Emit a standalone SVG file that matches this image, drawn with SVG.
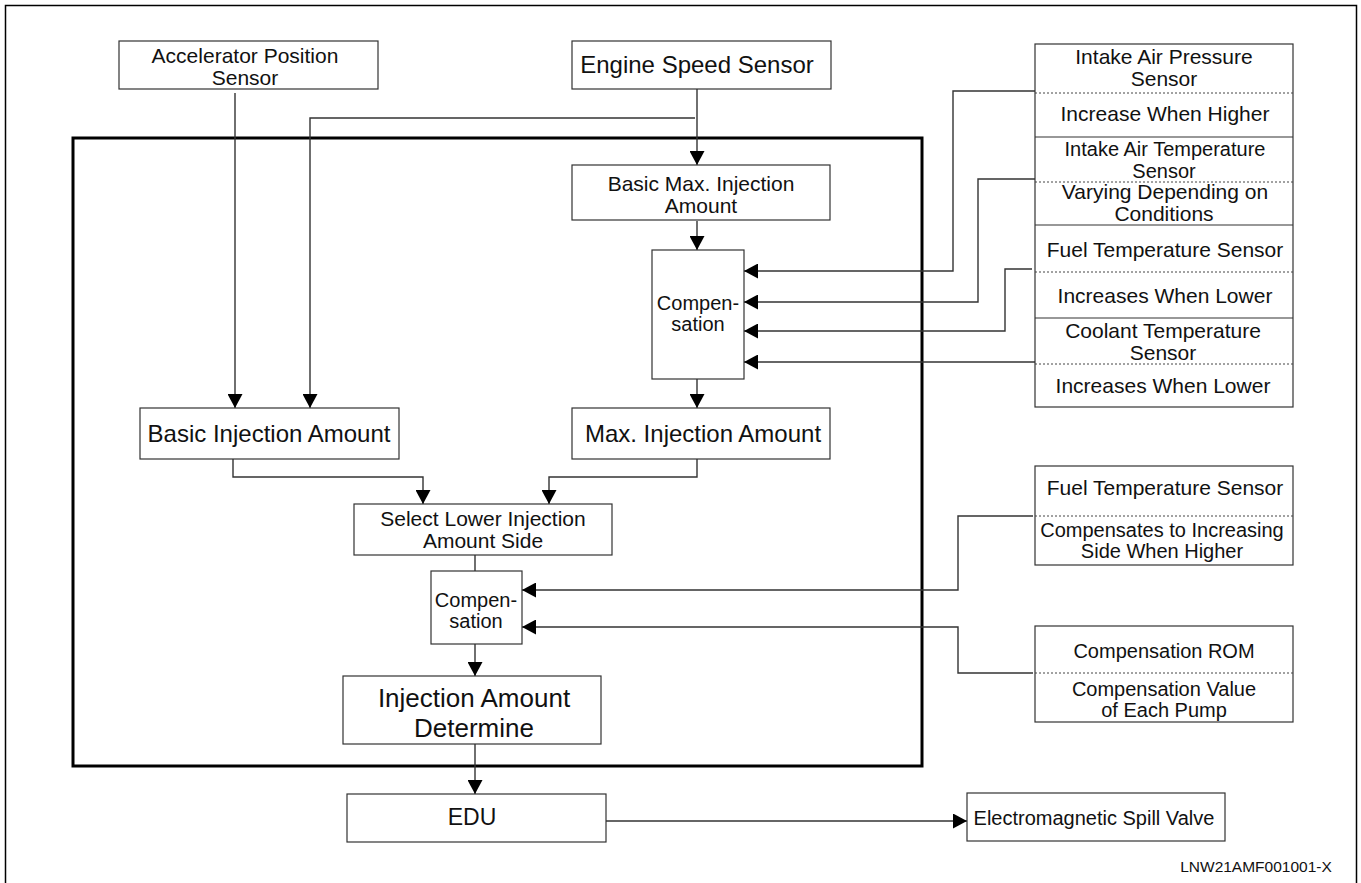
<svg xmlns="http://www.w3.org/2000/svg" width="1361" height="883" viewBox="0 0 1361 883">
<style>
  .box { fill: #fff; stroke: #333; stroke-width: 1.2; }
  .thick { fill: none; stroke: #000; stroke-width: 3; }
  .frame { fill: none; stroke: #000; stroke-width: 1.5; }
  .dot { stroke: #444; stroke-width: 1; stroke-dasharray: 2 2; fill: none; }
  .sep { stroke: #333; stroke-width: 1.2; fill: none; }
  .ln { fill: none; stroke: #333; stroke-width: 1.4; }
  .arr { fill: none; stroke: #333; stroke-width: 1.4; marker-end: url(#ah); }
  text { font-family: "Liberation Sans", Arial, sans-serif; fill: #111; text-anchor: middle; }
  .t21 { font-size: 21px; }
  .t20 { font-size: 20px; }
  .t24 { font-size: 24px; }
</style>
<defs>
  <marker id="ah" markerUnits="userSpaceOnUse" markerWidth="15" markerHeight="15" refX="14" refY="7.5" orient="auto">
    <path d="M0,0 L14,7.5 L0,15 z" fill="#000"/>
  </marker>
</defs>
<rect width="1361" height="883" fill="#fff"/>
<path class="frame" d="M5.5,884 V5.5 H1356.5 V884"/>

<rect id="controller" class="thick" x="73" y="138" width="849" height="628"/>

<g id="connectors">
  <path class="arr" d="M235,93 V408"/>
  <path class="arr" d="M697,89 V165"/>
  <path class="arr" d="M695,118 H310 V408"/>
  <path class="arr" d="M697,221 V250"/>
  <path class="arr" d="M697,379 V408"/>
  <path class="arr" d="M233,459 V477 H423 V504"/>
  <path class="arr" d="M697,459 V477 H549 V504"/>
  <path class="ln" d="M475,555 V571"/>
  <path class="arr" d="M475,644 V676"/>
  <path class="arr" d="M475,744 V794"/>
  <path class="arr" d="M606,821 H967"/>
  <path class="arr" d="M1035,91 H953 V271 H744"/>
  <path class="arr" d="M1035,179 H978 V302 H744"/>
  <path class="arr" d="M1032,269 H1005 V331 H744"/>
  <path class="arr" d="M1035,362 H744"/>
  <path class="arr" d="M1033,516 H958 V590 H522"/>
  <path class="arr" d="M1033,673 H958 V627 H522"/>
</g>

<g id="accel">
  <rect class="box" x="119" y="41" width="259" height="48"/>
  <text class="t21" x="245" y="63">Accelerator Position</text>
  <text class="t21" x="245" y="85">Sensor</text>
</g>
<g id="engine-speed">
  <rect class="box" x="572" y="41" width="259" height="48"/>
  <text class="t24" x="697" y="73">Engine Speed Sensor</text>
</g>
<g id="basic-max">
  <rect class="box" x="572" y="165" width="258" height="55"/>
  <text class="t21" x="701" y="191">Basic Max. Injection</text>
  <text class="t21" x="701" y="213">Amount</text>
</g>
<g id="comp1">
  <rect class="box" x="652" y="250" width="92" height="129"/>
  <text class="t20" x="698" y="310">Compen-</text>
  <text class="t20" x="698" y="331">sation</text>
</g>
<g id="max-inj">
  <rect class="box" x="572" y="408" width="258" height="51"/>
  <text class="t24" x="703" y="442">Max. Injection Amount</text>
</g>
<g id="basic-inj">
  <rect class="box" x="140" y="408" width="259" height="51"/>
  <text class="t24" x="269" y="442">Basic Injection Amount</text>
</g>
<g id="select">
  <rect class="box" x="354" y="504" width="258" height="51"/>
  <text class="t21" x="483" y="526">Select Lower Injection</text>
  <text class="t21" x="483" y="548">Amount Side</text>
</g>
<g id="comp2">
  <rect class="box" x="431" y="571" width="91" height="73"/>
  <text class="t20" x="476" y="607">Compen-</text>
  <text class="t20" x="476" y="628">sation</text>
</g>
<g id="determine">
  <rect class="box" x="343" y="676" width="258" height="68"/>
  <text x="474" y="707" style="font-size:26px">Injection Amount</text>
  <text x="474" y="737" style="font-size:26px">Determine</text>
</g>
<g id="edu">
  <rect class="box" x="347" y="794" width="259" height="48"/>
  <text x="472" y="825" style="font-size:23px">EDU</text>
</g>
<g id="spill-valve">
  <rect class="box" x="967" y="793" width="258" height="48"/>
  <text class="t20" x="1094" y="825">Electromagnetic Spill Valve</text>
</g>

<g id="sensors">
  <rect class="box" x="1035" y="44" width="258" height="363"/>
  <path class="sep" d="M1035,137 H1293 M1035,225 H1293 M1035,318 H1293"/>
  <path class="dot" d="M1035,93 H1293 M1035,182 H1293 M1035,272 H1293 M1035,364 H1293"/>
  <text class="t21" x="1164" y="64">Intake Air Pressure</text>
  <text class="t21" x="1164" y="86">Sensor</text>
  <text class="t21" x="1165" y="121">Increase When Higher</text>
  <text class="t20" x="1165" y="156">Intake Air Temperature</text>
  <text class="t20" x="1164" y="178">Sensor</text>
  <text class="t21" x="1165" y="199">Varying Depending on</text>
  <text class="t21" x="1164" y="221">Conditions</text>
  <text class="t21" x="1165" y="257">Fuel Temperature Sensor</text>
  <text class="t21" x="1165" y="303">Increases When Lower</text>
  <text class="t21" x="1163" y="338">Coolant Temperature</text>
  <text class="t21" x="1163" y="360">Sensor</text>
  <text class="t21" x="1163" y="393">Increases When Lower</text>
</g>
<g id="fuel-temp-2">
  <rect class="box" x="1035" y="466" width="258" height="99"/>
  <path class="dot" d="M1035,516 H1293"/>
  <text class="t21" x="1165" y="495">Fuel Temperature Sensor</text>
  <text class="t20" x="1162" y="537">Compensates to Increasing</text>
  <text class="t20" x="1162" y="558">Side When Higher</text>
</g>
<g id="rom">
  <rect class="box" x="1035" y="626" width="258" height="96"/>
  <path class="dot" d="M1035,673 H1293"/>
  <text class="t20" x="1164" y="658">Compensation ROM</text>
  <text class="t20" x="1164" y="696">Compensation Value</text>
  <text class="t20" x="1164" y="717">of Each Pump</text>
</g>
<text x="1256" y="872" style="font-size:15.5px">LNW21AMF001001-X</text>
</svg>
